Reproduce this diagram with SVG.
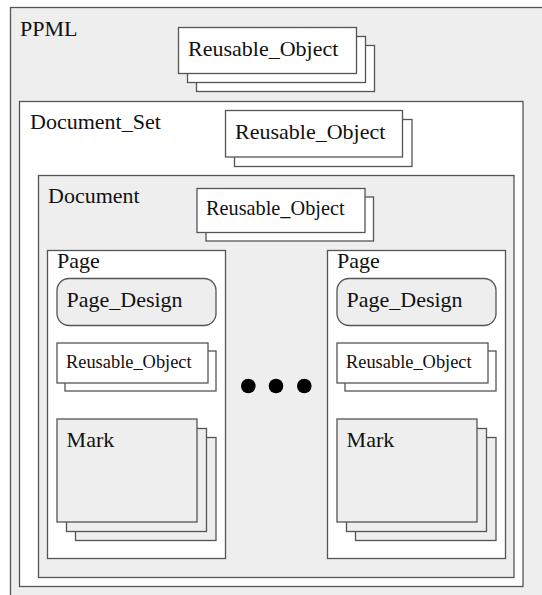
<svg xmlns="http://www.w3.org/2000/svg" width="542" height="595" viewBox="0 0 542 595">
<style>
.c{stroke:#555;stroke-width:1.3}
.g{fill:#eeeeee}
.w{fill:#ffffff}
text{font-family:"Liberation Serif","Times New Roman",serif;fill:#111}
.t22{font-size:22px}
.t20{font-size:20.3px}
.t18{font-size:18.4px}
</style>
<rect width="542" height="595" fill="#ffffff"/>
<g id="ppml">
<rect x="10.5" y="7.5" width="600" height="620" class="c g" stroke="#777"/>
<text x="20" y="36" class="t22">PPML</text>
</g>
<g id="ppml_reusable">
<rect x="196.5" y="45.5" width="178" height="46" class="c w"/>
<rect x="187.5" y="36.5" width="178" height="46" class="c w"/>
<rect x="178.5" y="27.5" width="178" height="46" class="c w"/>
<text x="188" y="56" class="t22">Reusable_Object</text>
</g>
<g id="document_set">
<rect x="19.5" y="101.5" width="503.5" height="485" class="c w"/>
<text x="30" y="128.5" class="t22">Document_Set</text>
</g>
<g id="docset_reusable">
<rect x="234.5" y="119.5" width="177.5" height="47" class="c w"/>
<rect x="225.5" y="110.5" width="177" height="46.5" class="c w"/>
<text x="235" y="138.5" class="t22">Reusable_Object</text>
</g>
<g id="document">
<rect x="38.5" y="175.5" width="475.5" height="402" class="c g"/>
<text x="48" y="203.3" class="t22">Document</text>
</g>
<g id="document_reusable">
<rect x="206" y="197" width="167.5" height="44" class="c w"/>
<rect x="197" y="188.5" width="168" height="44" class="c w"/>
<text x="206" y="214.5" class="t20">Reusable_Object</text>
</g>
<g id="page1">
<rect x="47.5" y="250.5" width="178" height="308" class="c w"/>
<text x="57" y="268" class="t22">Page</text>
</g>
<g id="page1_design">
<rect x="57" y="278.5" width="159" height="47" rx="12" class="c g"/>
<text x="66.5" y="306.7" class="t22">Page_Design</text>
</g>
<g id="page1_reusable">
<rect x="65" y="351" width="151" height="40" class="c w"/>
<rect x="57" y="343" width="151" height="40" class="c w"/>
<text x="66" y="368" class="t18">Reusable_Object</text>
</g>
<g id="page1_mark">
<rect x="75.5" y="437.5" width="140.5" height="103" class="c g"/>
<rect x="66.5" y="428.5" width="140" height="103" class="c g"/>
<rect x="57" y="419" width="140" height="103" class="c g"/>
<text x="66.6" y="447" class="t22">Mark</text>
</g>
<g id="ellipsis">
<circle cx="248.3" cy="386" r="7.3" fill="#000"/>
<circle cx="276" cy="386" r="7.3" fill="#000"/>
<circle cx="304.3" cy="386" r="7.3" fill="#000"/>
</g>
<g id="page2">
<rect x="327.5" y="250.5" width="178" height="308" class="c w"/>
<text x="337" y="268" class="t22">Page</text>
</g>
<g id="page2_design">
<rect x="337" y="278.5" width="159" height="47" rx="12" class="c g"/>
<text x="346.5" y="306.7" class="t22">Page_Design</text>
</g>
<g id="page2_reusable">
<rect x="345" y="351" width="151" height="40" class="c w"/>
<rect x="337" y="343" width="151" height="40" class="c w"/>
<text x="346" y="368" class="t18">Reusable_Object</text>
</g>
<g id="page2_mark">
<rect x="355.5" y="437.5" width="140.5" height="103" class="c g"/>
<rect x="346.5" y="428.5" width="140" height="103" class="c g"/>
<rect x="337" y="419" width="140" height="103" class="c g"/>
<text x="346.6" y="447" class="t22">Mark</text>
</g>
<g id="connectors"/>
</svg>
